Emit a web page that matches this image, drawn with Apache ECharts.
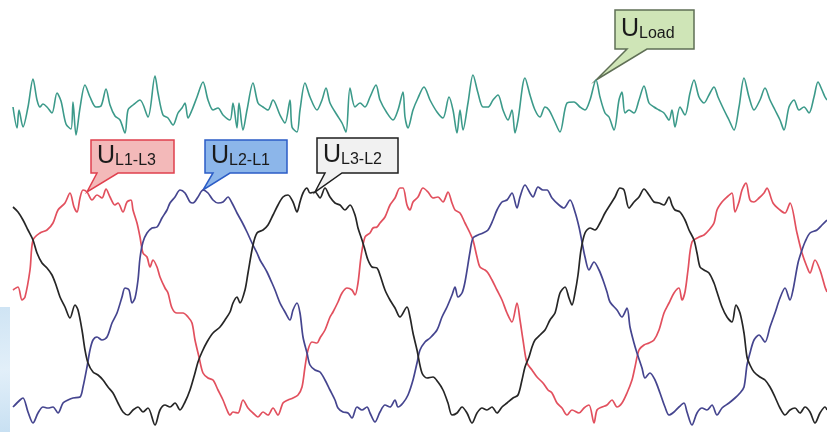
<!DOCTYPE html>
<html>
<head>
<meta charset="utf-8">
<script src="https://cdn.jsdelivr.net/npm/echarts@6/dist/echarts.min.js"></script>
<style>
  html, body { margin: 0; padding: 0; background: #ffffff; }
  #chart { width: 827px; height: 432px; }
</style>
</head>
<body>
<div id="chart"></div>
<script>
// Oscilloscope capture: three line-to-line voltages and the load voltage.
// Each trace is [sample, volts].
const labelLoad = 'Load';
const labelL1L3 = 'L1-L3';
const labelL2L1 = 'L2-L1';
const labelL3L2 = 'L3-L2';

const traceLoad = [
  [0,-10],[4,-115],[6,-25],[10,-110],[15,-10],[20,130],[24,25],[27,-10],[30,5],[34,-10],
  [39,-40],[44,60],[48,20],[53,-95],[58,-120],[60,15],[63,-150],[67,-15],[72,100],[77,40],
  [83,-10],[88,-5],[93,80],[97,0],[102,-55],[107,-75],[112,-140],[115,-25],[120,0],[127,25],
  [135,-60],[142,145],[145,60],[150,-50],[155,-65],[160,-100],[165,-40],[169,-15],[172,10],[175,-65],
  [179,-25],[184,40],[190,115],[195,25],[200,-25],[205,-15],[210,-50],[217,-75],[220,10],[224,-115],
  [226,10],[230,-125],[234,-25],[240,110],[245,10],[250,-10],[255,-25],[260,25],[267,-50],[272,-90],
  [277,25],[279,-110],[284,-135],[287,-25],[292,110],[297,40],[304,-25],[309,25],[313,85],[317,10],
  [324,-50],[329,-90],[333,-135],[337,85],[342,-10],[347,10],[352,-10],[357,40],[363,100],[367,25],
  [374,-40],[380,-75],[385,-25],[390,65],[392,-60],[395,-115],[400,-25],[405,35],[411,90],[417,25],
  [424,-35],[430,-65],[436,40],[440,-25],[444,-140],[447,-25],[450,-125],[455,10],[460,150],[465,60],
  [470,-10],[475,-10],[480,25],[485,50],[490,-25],[495,-75],[499,-25],[502,-140],[505,-75],[512,135],
  [517,50],[522,-25],[527,-60],[532,-10],[536,-25],[541,-75],[547,-135],[554,10],[561,15],[567,-10],
  [572,-25],[577,25],[583,125],[587,40],[592,-40],[596,-60],[601,-125],[606,25],[609,65],[612,-40],
  [616,-25],[621,-40],[626,25],[631,95],[636,10],[641,-10],[646,-25],[651,-40],[656,-75],[659,-25],
  [662,-110],[667,-10],[672,-50],[677,60],[681,125],[686,40],[691,10],[696,50],[701,90],[705,40],
  [711,-25],[716,-75],[721,-125],[726,-10],[731,135],[736,40],[741,-25],[747,25],[752,85],[757,25],
  [762,-25],[767,-75],[771,-125],[776,-10],[781,25],[786,-25],[791,-10],[796,-40],[801,40],[805,115],
  [809,75],[812,40],[814,25]
];

const traceL1L3 = [
  [0,75],[5,90],[9,25],[12,40],[17,175],[20,325],[27,360],[34,375],[40,410],[45,475],
  [52,510],[57,560],[61,490],[64,465],[67,535],[70,575],[74,565],[79,525],[84,550],[89,535],
  [93,580],[97,540],[102,500],[105,510],[110,465],[114,515],[118,525],[120,475],[124,410],[127,340],
  [130,260],[134,240],[137,190],[140,225],[144,190],[147,140],[152,85],[155,60],[159,-15],[164,-40],
  [170,-40],[175,-60],[179,-90],[182,-175],[186,-260],[190,-340],[195,-365],[200,-375],[205,-425],[210,-475],
  [214,-525],[217,-550],[220,-535],[225,-540],[230,-475],[235,-515],[240,-540],[245,-560],[250,-535],[255,-550],
  [260,-515],[265,-550],[270,-490],[275,-475],[280,-465],[285,-450],[289,-410],[292,-310],[295,-225],[299,-185],
  [304,-190],[307,-165],[312,-125],[317,-60],[320,-35],[325,15],[329,60],[334,85],[339,75],[342,50],
  [345,110],[348,240],[352,340],[357,360],[360,385],[364,390],[367,410],[372,440],[377,500],[382,535],
  [387,585],[390,585],[394,500],[397,475],[400,515],[405,540],[410,585],[415,565],[420,535],[425,540],
  [430,515],[435,565],[439,510],[442,475],[447,460],[452,410],[457,360],[460,325],[464,240],[467,190],
  [472,175],[475,160],[479,125],[484,75],[489,25],[494,-40],[499,-85],[504,10],[507,-75],[510,-175],
  [514,-290],[519,-325],[524,-360],[530,-390],[535,-425],[539,-440],[544,-490],[549,-515],[554,-550],[559,-525],
  [566,-540],[571,-515],[576,-500],[581,-590],[584,-525],[589,-510],[594,-500],[599,-475],[604,-510],[609,-490],
  [614,-440],[619,-375],[622,-310],[626,-225],[631,-200],[636,-190],[641,-175],[646,-125],[651,-40],[656,10],
  [661,60],[666,85],[669,25],[672,65],[675,175],[679,315],[686,340],[691,350],[696,375],[701,410],
  [704,475],[709,515],[714,540],[719,560],[722,465],[726,515],[729,575],[733,610],[737,525],[741,515],
  [746,535],[751,560],[754,585],[760,510],[767,475],[772,460],[777,510],[784,360],[789,260],[794,190],
  [797,160],[802,225],[807,175],[812,90],[814,65]
];

const traceL2L1 = [
  [0,-510],[7,-475],[10,-465],[15,-535],[20,-590],[25,-540],[30,-510],[35,-515],[40,-510],[45,-540],
  [50,-490],[55,-475],[60,-465],[67,-460],[70,-410],[74,-310],[77,-225],[80,-175],[84,-160],[89,-175],
  [94,-160],[99,-90],[104,-40],[109,40],[112,85],[116,75],[119,10],[122,35],[125,125],[127,235],
  [130,315],[134,360],[139,385],[144,390],[149,435],[154,475],[157,510],[162,540],[167,575],[172,560],
  [177,515],[180,510],[185,540],[190,575],[195,560],[200,525],[205,510],[210,515],[215,540],[219,510],
  [224,460],[229,415],[234,365],[239,310],[244,260],[247,225],[250,200],[254,165],[259,110],[262,75],
  [267,10],[272,-35],[277,-75],[280,-25],[284,10],[287,-40],[290,-160],[294,-240],[297,-300],[302,-325],
  [307,-335],[312,-375],[317,-425],[322,-475],[325,-515],[330,-535],[335,-540],[339,-565],[344,-510],[349,-525],
  [354,-510],[357,-540],[362,-585],[367,-535],[372,-500],[377,-510],[382,-475],[385,-510],[390,-490],[395,-450],
  [400,-375],[404,-290],[407,-225],[412,-185],[417,-165],[424,-125],[429,-60],[434,-10],[439,50],[442,90],
  [445,40],[449,60],[452,115],[457,265],[460,335],[465,350],[470,360],[475,375],[480,425],[484,475],
  [489,515],[494,525],[499,560],[504,485],[507,540],[512,600],[517,560],[520,540],[525,590],[530,575],
  [534,575],[539,535],[546,500],[551,485],[557,525],[562,465],[566,390],[569,315],[572,240],[576,175],
  [581,215],[586,175],[590,125],[594,65],[597,15],[604,-25],[609,-60],[614,-15],[617,-110],[621,-190],
  [624,-240],[629,-315],[632,-365],[637,-340],[642,-375],[647,-440],[652,-510],[656,-550],[661,-535],[666,-510],
  [671,-490],[674,-535],[679,-600],[684,-540],[689,-515],[694,-525],[699,-500],[704,-550],[709,-515],[716,-490],
  [722,-465],[727,-440],[731,-410],[734,-300],[737,-240],[741,-175],[746,-150],[752,-185],[757,-110],[762,-40],
  [767,35],[772,85],[777,25],[780,75],[785,210],[789,275],[792,315],[797,360],[804,375],[809,400],
  [814,425]
];

const traceL3L2 = [
  [0,490],[5,465],[10,425],[15,375],[20,325],[24,260],[29,210],[34,185],[39,150],[43,100],
  [47,40],[52,-10],[57,-65],[62,0],[65,-25],[69,-125],[72,-225],[75,-290],[80,-335],[85,-350],
  [90,-375],[95,-410],[100,-440],[105,-490],[110,-535],[115,-550],[120,-525],[125,-510],[130,-535],[135,-515],
  [142,-600],[147,-525],[152,-500],[157,-510],[162,-490],[167,-525],[172,-485],[177,-425],[182,-340],[185,-285],
  [189,-235],[194,-185],[200,-140],[207,-110],[212,-75],[217,-35],[220,10],[224,40],[227,10],[232,75],
  [235,160],[240,300],[244,360],[250,375],[255,400],[260,450],[265,500],[270,540],[275,550],[280,515],
  [284,465],[287,515],[290,560],[294,585],[297,560],[302,565],[307,535],[312,585],[317,540],[322,510],
  [327,500],[332,475],[337,500],[342,450],[345,385],[349,325],[352,275],[355,225],[359,190],[364,185],
  [367,150],[372,75],[377,25],[382,-15],[387,-60],[394,-10],[397,-60],[400,-140],[404,-225],[409,-340],
  [414,-365],[420,-360],[425,-385],[430,-425],[435,-490],[439,-550],[444,-540],[449,-510],[454,-540],[459,-590],
  [464,-540],[469,-515],[474,-525],[479,-510],[484,-540],[489,-510],[494,-490],[500,-465],[505,-450],[509,-375],
  [512,-310],[516,-260],[519,-210],[522,-175],[527,-150],[532,-125],[537,-75],[542,-40],[547,60],[552,90],
  [556,35],[559,0],[562,60],[565,150],[568,275],[572,360],[577,385],[582,375],[587,410],[592,460],
  [597,500],[602,540],[607,585],[611,575],[616,485],[621,515],[626,540],[631,580],[636,550],[641,515],
  [646,510],[651,500],[656,540],[659,500],[662,475],[667,465],[672,425],[676,375],[681,325],[684,260],
  [687,190],[691,175],[696,160],[701,110],[704,65],[709,-10],[714,-60],[719,-85],[723,0],[727,-40],
  [731,-140],[734,-260],[737,-300],[741,-335],[747,-360],[752,-375],[757,-410],[762,-460],[767,-515],[772,-550],
  [777,-525],[782,-515],[787,-540],[792,-510],[797,-535],[802,-590],[807,-540],[812,-510],[814,-525]
];

// Sample on each trace that its callout points to
const calloutAnchor = { load: 583, l1l3: 74, l2l1: 190, l3l2: 302 };

const FONT = "'Liberation Sans Narrow', 'Liberation Sans', Arial, sans-serif";

const chart = echarts.init(document.getElementById('chart'), null, { renderer: 'canvas' });

function lineSeries(name, data, color, yIdx, width) {
  return {
    name: name,
    type: 'line',
    data: data,
    yAxisIndex: yIdx,
    showSymbol: false,
    smooth: 0.3,
    animation: false,
    lineStyle: { color: color, width: width },
    emphasis: { disabled: true }
  };
}

chart.setOption({
  backgroundColor: '#ffffff',
  animation: false,
  grid: { left: 13, right: 0, top: 0, bottom: 0 },
  xAxis: { type: 'value', min: 0, max: 814, show: false },
  yAxis: [
    { type: 'value', min: -635, max: 1525, show: false },
    { type: 'value', min: -1635, max: 525, show: false }
  ],
  series: [
    lineSeries('U' + labelLoad, traceLoad, '#3c9a8a', 1, 1.6),
    lineSeries('U' + labelL1L3, traceL1L3, '#e2505e', 0, 1.7),
    lineSeries('U' + labelL2L1, traceL2L1, '#45458f', 0, 1.7),
    lineSeries('U' + labelL3L2, traceL3L2, '#262626', 0, 1.7)
  ]
});

function findPoint(data, s) {
  return data.find(p => p[0] === s);
}

function callout(seriesIndex, data, sample, box, base, fill, stroke, sub) {
  const tip = chart.convertToPixel({ seriesIndex: seriesIndex }, findPoint(data, sample));
  const [x0, y0, x1, y1] = box;
  return {
    type: 'group',
    children: [
      {
        type: 'polygon',
        shape: {
          points: [
            [x0, y0], [x1, y0], [x1, y1], [base[1], y1], tip, [base[0], y1], [x0, y1]
          ]
        },
        style: { fill: fill, stroke: stroke, lineWidth: 1.5, lineJoin: 'miter' }
      },
      {
        type: 'text',
        left: x0 + 6,
        top: y0 + (y1 - y0 - 28) / 2 + 1,
        style: {
          text: '{u|U}{s|' + sub + '}',
          rich: {
            u: { fontSize: 25, fontFamily: FONT, fill: '#1a1a1a', verticalAlign: 'bottom', lineHeight: 28 },
            s: { fontSize: 16, fontFamily: FONT, fill: '#1a1a1a', verticalAlign: 'bottom', lineHeight: 24, padding: [0, 0, 0, 0] }
          }
        }
      }
    ]
  };
}

chart.setOption({
  graphic: [
    {
      type: 'rect',
      shape: { x: 0, y: 307, width: 10, height: 125 },
      style: {
        fill: new echarts.graphic.LinearGradient(0, 0, 1, 1, [
          { offset: 0, color: '#cfe4f4' },
          { offset: 0.5, color: '#e2eff9' },
          { offset: 1, color: '#c8e0f2' }
        ])
      }
    },
    callout(0, traceLoad, calloutAnchor.load, [615, 10, 694, 49], [627, 647], '#cfe5b7', '#5f6f55', labelLoad),
    callout(1, traceL1L3, calloutAnchor.l1l3, [91, 140, 174, 173], [97, 118], '#f3b9b9', '#e0404e', labelL1L3),
    callout(2, traceL2L1, calloutAnchor.l2l1, [205, 140, 287, 173], [213, 230], '#8cb6ea', '#2b5cc6', labelL2L1),
    callout(3, traceL3L2, calloutAnchor.l3l2, [317, 138, 398, 173], [325, 342], '#f1f1f1', '#1e1e1e', labelL3L2)
  ]
});
</script>
</body>
</html>
